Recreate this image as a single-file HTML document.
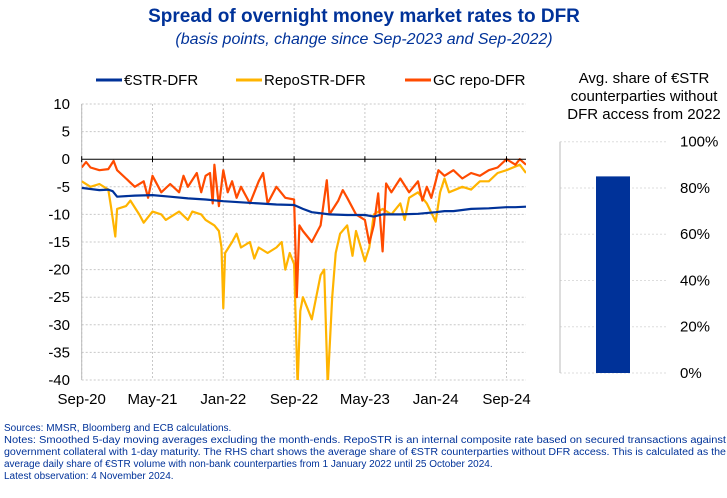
<!DOCTYPE html>
<html><head><meta charset="utf-8">
<style>
body{margin:0;background:#fff;width:727px;height:493px;overflow:hidden;font-family:"Liberation Sans",sans-serif}
</style></head>
<body>
<svg id="c" width="727" height="493" xmlns="http://www.w3.org/2000/svg" font-family="Liberation Sans, sans-serif">
<text x="364" y="22" text-anchor="middle" font-size="19" font-weight="bold" fill="#003299">Spread of overnight money market rates to DFR</text>
<text x="364" y="44" text-anchor="middle" font-size="16" font-style="italic" fill="#003299">(basis points, change since Sep-2023 and Sep-2022)</text>
<g font-size="15" fill="#000">
<line x1="96" y1="80" x2="122" y2="80" stroke="#003299" stroke-width="3"/>
<text x="124" y="85">€STR-DFR</text>
<line x1="236" y1="80" x2="262" y2="80" stroke="#FFB400" stroke-width="3"/>
<text x="264" y="85">RepoSTR-DFR</text>
<line x1="405" y1="80" x2="431" y2="80" stroke="#FF4B00" stroke-width="3"/>
<text x="433" y="85">GC repo-DFR</text>
</g>
<g id="grid"></g><g id="lines"></g><g id="axes"></g>
<g font-size="15" text-anchor="middle">
<text x="644" y="83">Avg. share of €STR</text>
<text x="644" y="101">counterparties without</text>
<text x="644" y="119">DFR access from 2022</text>
</g>
<g id="rhs"></g>
<g font-size="10" fill="#003299">
<text x="4" y="431">Sources: MMSR, Bloomberg and ECB calculations.</text>
<text x="4" y="443" textLength="722" lengthAdjust="spacingAndGlyphs">Notes: Smoothed 5-day moving averages excluding the month-ends. RepoSTR is an internal composite rate based on secured transactions against</text>
<text x="4" y="455" textLength="722" lengthAdjust="spacingAndGlyphs">government collateral with 1-day maturity. The RHS chart shows the average share of €STR counterparties without DFR access. This is calculated as the</text>
<text x="4" y="467">average daily share of €STR volume with non-bank counterparties from 1 January 2022 until 25 October 2024.</text>
<text x="4" y="479">Latest observation: 4 November 2024.</text>
</g>
</svg>
<script>
const xTickLabels=["Sep-20","May-21","Jan-22","Sep-22","May-23","Jan-24","Sep-24"];
const yTicks=[10,5,0,-5,-10,-15,-20,-25,-30,-35,-40];
const estrMonths=[0,1,2,3,3.5,4,6,8,10,12,14,16,18,20,22,24,25,26,28,30,32,33,34,36,38,40,41,42,43,44,46,48,49,50.2];
const estrValues=[-5.2,-5.4,-5.6,-5.5,-5.8,-6.8,-6.6,-6.5,-6.8,-7.1,-7.3,-7.6,-7.8,-8.0,-8.2,-8.3,-9.0,-9.6,-10,-10.1,-10.1,-10.4,-10,-10,-9.9,-9.6,-9.4,-9.4,-9.2,-9.0,-8.9,-8.7,-8.7,-8.6];
const repoMonths=[0,1,2,3,3.3,3.8,4,5,5.5,6.5,7,8,9,9.5,11,12,12.5,13.5,14,15,15.5,15.8,16,16.2,17,17.5,18,19,19.5,20,21,22,22.6,23,23.5,24,24.4,24.7,25,25.5,26,26.5,27,27.4,27.8,28.3,28.7,29.2,30,30.6,31,32,32.5,33,34,35,36,36.5,37,38,39,40,40.5,41,41.5,43,44,45,46,47,48,49.5,50.2];
const repoValues=[-4,-5,-4.5,-5.5,-8.5,-14,-9,-8.5,-7.5,-10,-11.5,-9.5,-10,-11,-9.5,-11,-9.5,-10,-11,-12,-13,-16,-27,-17,-15,-13.5,-16,-15,-18,-16,-17,-16,-15,-20,-17,-19,-41,-27.5,-25,-27,-29,-25,-21,-20,-41,-25,-17,-13.5,-12,-17.5,-13,-18.5,-16,-10,-9,-10,-8,-11,-7,-6,-8,-11.3,-6,-3.5,-6,-5,-5.5,-4,-4,-2.5,-2,-1,-2.5];
const gcMonths=[0,0.5,1,2,3,3.6,4,5,6,7,7.5,8,9,10,11,11.5,12,13,13.5,14,14.5,14.8,15,15.5,16,16.5,17,17.5,18,19,20,20.5,21,22,23,24,24.3,24.6,25,26,27,27.7,28,29,29.5,30,31,32,32.5,33,33.5,34,34.4,35,36,37,38,38.5,39,39.5,40,40.3,41,42,43,44,45,46,47,48,49,49.5,50.2];
const gcValues=[-1.5,-0.5,-1.5,-2,-1.8,-0.3,-2,-3.5,-5,-4,-7,-3,-6,-4.5,-6,-3,-5,-2.5,-6,-3,-2.5,-8,-1,-8.5,-2,-6,-4,-7,-5,-8,-4,-2.5,-8,-5,-7,-7.3,-25,-12,-13,-15,-12,-3.8,-10,-7.5,-5.6,-7,-10,-11,-15.2,-12,-6.2,-16.7,-4.4,-6,-3.5,-6,-4,-7.5,-5,-7,-4,-2,-3,-2,-3.5,-2.5,-3,-2,-1.5,0,-1,0,-1];
const rhsTicks=[0,20,40,60,80,100];
const rhsValue=[85];

const NS="http://www.w3.org/2000/svg";
const X0=81.7,X1=526,PXM=8.85,Y0=104,YS=27.6/5;
const xs=m=>X0+m*PXM, ys=v=>Y0+(10-v)*YS;
function mk(t,a,p){const e=document.createElementNS(NS,t);for(const k in a)e.setAttribute(k,a[k]);p.appendChild(e);return e;}
const grid=document.getElementById('grid'),axes=document.getElementById('axes'),lines=document.getElementById('lines');
yTicks.forEach(v=>{
  if(v!==0){const g=mk('line',{x1:X0,x2:X1,y1:ys(v),y2:ys(v),stroke:'#c8c8c8','stroke-dasharray':'2,2'},grid);
  
  }
  const t=mk('text',{x:70,y:ys(v)+5,'text-anchor':'end','font-size':15},axes);t.textContent=v;
  
  
});
xTickLabels.forEach((l,i)=>{
  const x=xs(i*8);
  const g=mk('line',{x1:x,x2:x,y1:Y0,y2:ys(-40),stroke:'#c8c8c8','stroke-dasharray':'2,2'},grid);
  
  
  const tk=mk('line',{x1:x,x2:x,y1:ys(0)-3,y2:ys(0)+3,stroke:'#000'},axes);
  
  
  const t=mk('text',{x:x,y:404,'text-anchor':'middle','font-size':15},axes);t.textContent=l;
  
  
});
const za=mk('line',{x1:X0,x2:X1,y1:ys(0),y2:ys(0),stroke:'#000','stroke-width':1},axes);


const ya=mk('line',{x1:X0,x2:X0,y1:Y0,y2:ys(-40),stroke:'#bbb'},grid);


const clip=mk('clipPath',{id:'pc'},document.getElementById('c'));mk('rect',{x:X0,y:Y0,width:X1-X0,height:ys(-40)-Y0},clip);
function series(ms,vs,col,name){
  const d=ms.map((m,i)=>(i?'L':'M')+xs(m).toFixed(1)+','+ys(vs[i]).toFixed(1)).join('');
  const p=mk('path',{d:d,fill:'none',stroke:col,'stroke-width':2.2,'stroke-linejoin':'round','clip-path':'url(#pc)'},lines);
  
  
}
series(repoMonths,repoValues,'#FFB400','repostr-line');
series(gcMonths,gcValues,'#FF4B00','gc-repo-line');
series(estrMonths,estrValues,'#003299','estr-line');
// RHS
const rhs=document.getElementById('rhs');
const R0=373,RS=(373-141.7)/100,ry=v=>R0-v*RS;
rhsTicks.forEach(v=>{
  const g=mk('line',{x1:560,x2:667,y1:ry(v),y2:ry(v),stroke:'#ddd','stroke-dasharray':'2,2'},rhs);
  
  
  const t=mk('text',{x:680,y:ry(v)+5,'font-size':15},rhs);t.textContent=v+'%';
  
  
});
const ax=mk('line',{x1:560,x2:560,y1:ry(100),y2:R0,stroke:'#bbb'},rhs);


rhsValue.forEach(v=>{
  const b=mk('rect',{x:596,y:ry(v),width:34,height:R0-ry(v),fill:'#003299'},rhs);
  
  
});
</script>
</body></html>
